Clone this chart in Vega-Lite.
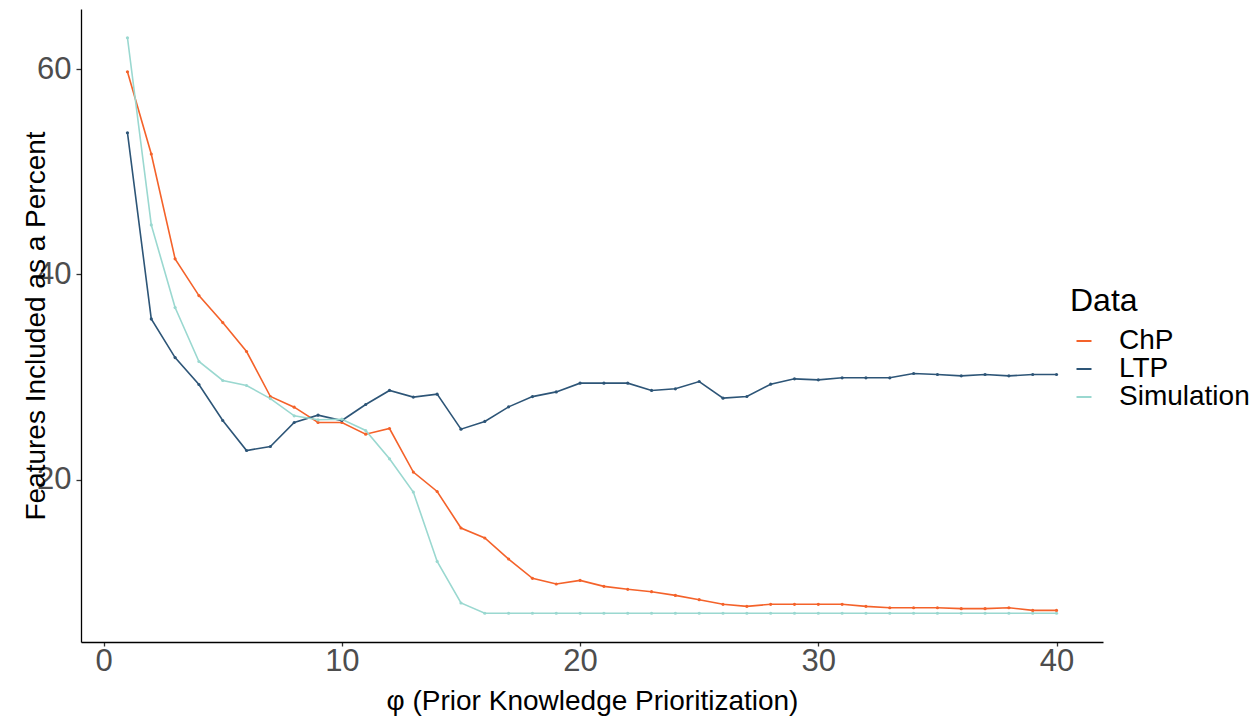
{
  "$schema": "https://vega.github.io/schema/vega-lite/v6.json",
  "autosize": "none",
  "padding": {"left": 81, "top": 9, "right": 154, "bottom": 75},
  "width": 1022,
  "height": 633,
  "background": "white",
  "config": {
    "view": {"stroke": null},
    "font": "Liberation Sans",
    "axis": {
      "grid": false,
      "domainColor": "black",
      "domainWidth": 1.3,
      "tickColor": "#333333",
      "tickWidth": 1.3,
      "labelFont": "Liberation Sans",
      "labelFontSize": 31,
      "labelColor": "#4D4D4D",
      "titleFont": "Liberation Sans",
      "titleFontSize": 28,
      "titleFontWeight": "normal",
      "titleColor": "black"
    }
  },
  "data": {
    "values": [
      {"phi": 1, "series": "ChP", "value": 59.74},
      {"phi": 2, "series": "ChP", "value": 51.73},
      {"phi": 3, "series": "ChP", "value": 41.52},
      {"phi": 4, "series": "ChP", "value": 37.94},
      {"phi": 5, "series": "ChP", "value": 35.31},
      {"phi": 6, "series": "ChP", "value": 32.49},
      {"phi": 7, "series": "ChP", "value": 28.11},
      {"phi": 8, "series": "ChP", "value": 27.07},
      {"phi": 9, "series": "ChP", "value": 25.58},
      {"phi": 10, "series": "ChP", "value": 25.58},
      {"phi": 11, "series": "ChP", "value": 24.44},
      {"phi": 12, "series": "ChP", "value": 24.99},
      {"phi": 13, "series": "ChP", "value": 20.75},
      {"phi": 14, "series": "ChP", "value": 18.86},
      {"phi": 15, "series": "ChP", "value": 15.3},
      {"phi": 16, "series": "ChP", "value": 14.33},
      {"phi": 17, "series": "ChP", "value": 12.28},
      {"phi": 18, "series": "ChP", "value": 10.4},
      {"phi": 19, "series": "ChP", "value": 9.85},
      {"phi": 20, "series": "ChP", "value": 10.2},
      {"phi": 21, "series": "ChP", "value": 9.62},
      {"phi": 22, "series": "ChP", "value": 9.33},
      {"phi": 23, "series": "ChP", "value": 9.1},
      {"phi": 24, "series": "ChP", "value": 8.74},
      {"phi": 25, "series": "ChP", "value": 8.32},
      {"phi": 26, "series": "ChP", "value": 7.87},
      {"phi": 27, "series": "ChP", "value": 7.67},
      {"phi": 28, "series": "ChP", "value": 7.87},
      {"phi": 29, "series": "ChP", "value": 7.87},
      {"phi": 30, "series": "ChP", "value": 7.87},
      {"phi": 31, "series": "ChP", "value": 7.87},
      {"phi": 32, "series": "ChP", "value": 7.67},
      {"phi": 33, "series": "ChP", "value": 7.54},
      {"phi": 34, "series": "ChP", "value": 7.54},
      {"phi": 35, "series": "ChP", "value": 7.54},
      {"phi": 36, "series": "ChP", "value": 7.45},
      {"phi": 37, "series": "ChP", "value": 7.45},
      {"phi": 38, "series": "ChP", "value": 7.54},
      {"phi": 39, "series": "ChP", "value": 7.28},
      {"phi": 40, "series": "ChP", "value": 7.28},
      {"phi": 1, "series": "LTP", "value": 53.8},
      {"phi": 2, "series": "LTP", "value": 35.67},
      {"phi": 3, "series": "LTP", "value": 31.9},
      {"phi": 4, "series": "LTP", "value": 29.28},
      {"phi": 5, "series": "LTP", "value": 25.77},
      {"phi": 6, "series": "LTP", "value": 22.85},
      {"phi": 7, "series": "LTP", "value": 23.24},
      {"phi": 8, "series": "LTP", "value": 25.58},
      {"phi": 9, "series": "LTP", "value": 26.29},
      {"phi": 10, "series": "LTP", "value": 25.77},
      {"phi": 11, "series": "LTP", "value": 27.33},
      {"phi": 12, "series": "LTP", "value": 28.7},
      {"phi": 13, "series": "LTP", "value": 28.05},
      {"phi": 14, "series": "LTP", "value": 28.34},
      {"phi": 15, "series": "LTP", "value": 24.93},
      {"phi": 16, "series": "LTP", "value": 25.68},
      {"phi": 17, "series": "LTP", "value": 27.1},
      {"phi": 18, "series": "LTP", "value": 28.1},
      {"phi": 19, "series": "LTP", "value": 28.56},
      {"phi": 20, "series": "LTP", "value": 29.41},
      {"phi": 21, "series": "LTP", "value": 29.41},
      {"phi": 22, "series": "LTP", "value": 29.41},
      {"phi": 23, "series": "LTP", "value": 28.7},
      {"phi": 24, "series": "LTP", "value": 28.86},
      {"phi": 25, "series": "LTP", "value": 29.57},
      {"phi": 26, "series": "LTP", "value": 27.95},
      {"phi": 27, "series": "LTP", "value": 28.11},
      {"phi": 28, "series": "LTP", "value": 29.31},
      {"phi": 29, "series": "LTP", "value": 29.83},
      {"phi": 30, "series": "LTP", "value": 29.73},
      {"phi": 31, "series": "LTP", "value": 29.93},
      {"phi": 32, "series": "LTP", "value": 29.93},
      {"phi": 33, "series": "LTP", "value": 29.93},
      {"phi": 34, "series": "LTP", "value": 30.35},
      {"phi": 35, "series": "LTP", "value": 30.25},
      {"phi": 36, "series": "LTP", "value": 30.12},
      {"phi": 37, "series": "LTP", "value": 30.25},
      {"phi": 38, "series": "LTP", "value": 30.12},
      {"phi": 39, "series": "LTP", "value": 30.25},
      {"phi": 40, "series": "LTP", "value": 30.25},
      {"phi": 1, "series": "Simulation", "value": 63.05},
      {"phi": 2, "series": "Simulation", "value": 44.82},
      {"phi": 3, "series": "Simulation", "value": 36.77},
      {"phi": 4, "series": "Simulation", "value": 31.52},
      {"phi": 5, "series": "Simulation", "value": 29.67},
      {"phi": 6, "series": "Simulation", "value": 29.18},
      {"phi": 7, "series": "Simulation", "value": 27.91},
      {"phi": 8, "series": "Simulation", "value": 26.23},
      {"phi": 9, "series": "Simulation", "value": 25.84},
      {"phi": 10, "series": "Simulation", "value": 25.9},
      {"phi": 11, "series": "Simulation", "value": 24.8},
      {"phi": 12, "series": "Simulation", "value": 22.04},
      {"phi": 13, "series": "Simulation", "value": 18.8},
      {"phi": 14, "series": "Simulation", "value": 12.05},
      {"phi": 15, "series": "Simulation", "value": 8.0},
      {"phi": 16, "series": "Simulation", "value": 7.0},
      {"phi": 17, "series": "Simulation", "value": 7.0},
      {"phi": 18, "series": "Simulation", "value": 7.0},
      {"phi": 19, "series": "Simulation", "value": 7.0},
      {"phi": 20, "series": "Simulation", "value": 7.0},
      {"phi": 21, "series": "Simulation", "value": 7.0},
      {"phi": 22, "series": "Simulation", "value": 7.0},
      {"phi": 23, "series": "Simulation", "value": 7.0},
      {"phi": 24, "series": "Simulation", "value": 7.0},
      {"phi": 25, "series": "Simulation", "value": 7.0},
      {"phi": 26, "series": "Simulation", "value": 7.0},
      {"phi": 27, "series": "Simulation", "value": 7.0},
      {"phi": 28, "series": "Simulation", "value": 7.0},
      {"phi": 29, "series": "Simulation", "value": 7.0},
      {"phi": 30, "series": "Simulation", "value": 7.0},
      {"phi": 31, "series": "Simulation", "value": 7.0},
      {"phi": 32, "series": "Simulation", "value": 7.0},
      {"phi": 33, "series": "Simulation", "value": 7.0},
      {"phi": 34, "series": "Simulation", "value": 7.0},
      {"phi": 35, "series": "Simulation", "value": 7.0},
      {"phi": 36, "series": "Simulation", "value": 7.0},
      {"phi": 37, "series": "Simulation", "value": 7.0},
      {"phi": 38, "series": "Simulation", "value": 7.0},
      {"phi": 39, "series": "Simulation", "value": 7.0},
      {"phi": 40, "series": "Simulation", "value": 7.0}
    ]
  },
  "encoding": {
    "x": {
      "field": "phi",
      "type": "quantitative",
      "scale": {"domain": [-0.95, 41.95], "nice": false, "zero": false},
      "axis": {
        "values": [0, 10, 20, 30, 40],
        "title": "φ (Prior Knowledge Prioritization)",
        "tickSize": 4,
        "labelPadding": 0,
        "titleX": 511,
        "titleY": 67,
        "titleAlign": "center",
        "titleBaseline": "alphabetic"
      }
    },
    "y": {
      "field": "value",
      "type": "quantitative",
      "scale": {"domain": [4.2, 65.85], "nice": false, "zero": false},
      "axis": {
        "values": [20, 40, 60],
        "title": "Features Included as a Percent",
        "tickSize": 5,
        "labelPadding": 5,
        "titleAngle": -90,
        "titleX": -37,
        "titleY": 316.5,
        "titleAlign": "center",
        "titleBaseline": "alphabetic"
      }
    }
  },
  "layer": [
    {
      "mark": {"type": "line", "strokeWidth": 1.6},
      "encoding": {
        "color": {
          "field": "series",
          "type": "nominal",
          "scale": {"domain": ["ChP", "LTP", "Simulation"], "range": ["#F4622A", "#2D5577", "#9AD8D0"]},
          "legend": {
            "title": "Data",
            "orient": "none",
            "legendX": 989,
            "legendY": 277,
            "padding": 0,
            "titleFontSize": 32,
            "titleFontWeight": "normal",
            "titleColor": "black",
            "titlePadding": 9,
            "labelFontSize": 28,
            "labelColor": "black",
            "labelOffset": 21,
            "symbolType": "stroke",
            "symbolSize": 225,
            "symbolStrokeWidth": 2,
            "rowPadding": -1
          }
        }
      }
    },
    {
      "mark": {"type": "point", "filled": true, "size": 10, "opacity": 1},
      "encoding": {
        "color": {
          "field": "series",
          "type": "nominal",
          "scale": {"domain": ["ChP", "LTP", "Simulation"], "range": ["#F4622A", "#2D5577", "#9AD8D0"]},
          "legend": null
        }
      }
    }
  ]
}
